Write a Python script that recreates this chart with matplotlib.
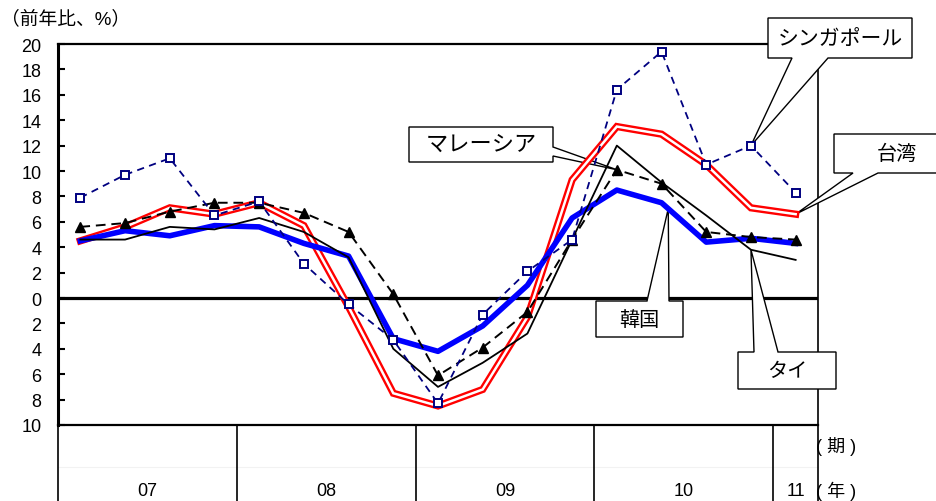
import matplotlib
matplotlib.use("Agg")
import matplotlib.pyplot as plt
import numpy as np
from matplotlib.patches import Polygon

plt.rcParams['font.family'] = ['Liberation Sans', 'Noto Sans CJK JP']

# ---------------- data ----------------
years = ['07', '08', '09', '10', '11']
quarters_per_year = [4, 4, 4, 4, 1]
ytick_values = [20, 18, 16, 14, 12, 10, 8, 6, 4, 2, 0, -2, -4, -6, -8, -10]
ytick_labels = ['20', '18', '16', '14', '12', '10', '8', '6', '4', '2', '0',
                '2', '4', '6', '8', '10']

taiwan = [4.5, 5.6, 7.1, 6.6, 7.5, 5.7, -0.7, -7.5, -8.5, -7.2, -1.5, 9.3, 13.5, 12.9, 10.5, 7.1, 6.6]
korea = [4.5, 5.3, 4.9, 5.7, 5.6, 4.3, 3.3, -3.2, -4.2, -2.2, 1.0, 6.3, 8.5, 7.5, 4.4, 4.7, 4.3]
thailand = [4.6, 4.6, 5.6, 5.4, 6.3, 5.2, 3.2, -4.0, -7.0, -5.1, -2.8, 4.6, 12.0, 9.1, 6.5, 3.8, 3.0]
malaysia = [5.6, 5.9, 6.8, 7.5, 7.5, 6.7, 5.2, 0.3, -6.1, -3.9, -1.1, 4.6, 10.1, 9.0, 5.2, 4.8, 4.6]
singapore = [7.9, 9.7, 11.0, 6.5, 7.6, 2.7, -0.5, -3.3, -8.3, -1.3, 2.1, 4.6, 16.4, 19.4, 10.5, 12.0, 8.3]

# ---------------- figure ----------------
W, H = 937, 502
fig = plt.figure(figsize=(W / 100, H / 100), dpi=100)
L, R, T, B = 58, 818, 45, 426
ax = fig.add_axes([L / W, 1 - B / H, (R - L) / W, (B - T) / H])

n = len(taiwan)
x = np.arange(n)
ax.set_xlim(-0.5, n - 0.5)
ax.set_ylim(-10, 20)

def px(xp, yp):
    """pixel -> data coordinates (layout helper)"""
    xd = -0.5 + (xp - L) / ((R - L) / n)
    yd = 20 - (yp - T) * 30 / (B - T)
    return xd, yd

# frame
for s in ['top', 'right', 'bottom', 'left']:
    ax.spines[s].set_zorder(1)
ax.spines['left'].set_linewidth(2.2)
ax.spines['top'].set_linewidth(1.6)
ax.spines['bottom'].set_linewidth(1.6)
ax.spines['right'].set_visible(False)

ax.set_yticks(ytick_values)
ax.set_yticklabels(ytick_labels)
ax.tick_params(axis='y', direction='in', length=5, width=1.5, pad=12, labelsize=13)
ax.set_xticks([])

ax.axhline(0, color='black', lw=2.3, zorder=1.2)

# bottom year table and right border
xt = ax.get_xaxis_transform()
tb = -(H - B) / (B - T)
ax.plot([n - 0.5, n - 0.5], [tb, 1], color='black', lw=1.2, transform=xt, clip_on=False, zorder=1)
ax.plot([-0.5, -0.5], [tb, 0], color='black', lw=1.2, transform=xt, clip_on=False, zorder=1)
ax.plot([-0.5, n - 0.5], [-(468 - B) / (B - T)] * 2, color='#f2f2f2', lw=0.8,
        transform=xt, clip_on=False, zorder=0.5)
start = -0.5
for yr, q in zip(years, quarters_per_year):
    end = start + q
    if end < n - 0.5:
        ax.plot([end, end], [tb, 0], color='black', lw=1.2, transform=xt, clip_on=False)
    ax.text((start + end) / 2, -(492 - B) / (B - T), yr, transform=xt,
            ha='center', va='center', fontsize=13)
    start = end
xr, _ = px(816, 0)
ax.text(xr, -(447 - B) / (B - T), '( 期 )', transform=xt, ha='left', va='center', fontsize=13)
ax.text(xr, -(491 - B) / (B - T), '( 年 )', transform=xt, ha='left', va='center', fontsize=13)

fig.text(1 / W, 1 - 19 / H, '（前年比、%）', ha='left', va='center', fontsize=13.5)

# ---------------- series ----------------
ax.plot(x, taiwan, color='red', lw=5.2, solid_joinstyle='miter', zorder=3)
ax.plot(x, taiwan, color='white', lw=1.8, solid_joinstyle='miter', zorder=3.1)
ax.plot(x, korea, color='#0000ff', lw=4.0, zorder=3.2)
ax.plot(x, thailand, color='black', lw=1.3, zorder=3.3)
ax.plot(x, malaysia, color='black', lw=1.4, ls=(0, (5, 3)), marker='^',
        ms=6.5, mfc='black', mec='black', zorder=3.4)
ax.plot(x, singapore, color='#000080', lw=1.3, ls=(0, (4, 3)), marker='s',
        ms=5.5, mfc='white', mec='#000080', mew=1.4, zorder=3.5)

# ---------------- callouts ----------------
def callout(text, verts_px, tip, fs):
    pts = []
    for v in verts_px:
        if v == 'tip':
            pts.append(tip)
        else:
            pts.append(px(*v))
    poly = Polygon(pts, closed=True, facecolor='white', edgecolor='black',
                   lw=1.0, zorder=2, clip_on=False)
    ax.add_patch(poly)
    box = [p for p in verts_px if p != 'tip']
    xs = [p[0] for p in box]
    ys = [p[1] for p in box]
    cx, cy = px((min(xs) + max(xs)) / 2, (min(ys) + max(ys)) / 2)
    ax.text(cx, cy, text, ha='center', va='center', fontsize=fs, zorder=2.1)

# マレーシア (tail from right edge)
callout('マレーシア',
        [(409, 128), (553, 128), (553, 148), 'tip', (553, 157), (553, 163), (409, 163)],
        (12, malaysia[12]), 16)
# シンガポール (tail from bottom)
callout('シンガポール',
        [(768, 19), (912, 19), (912, 59), (828, 59), 'tip', (792, 59), (768, 59)],
        (15, singapore[15]), 15)
# 台湾 (tail from bottom, box extends beyond figure)
callout('台湾',
        [(834, 135), (960, 135), (960, 174), (878, 174), 'tip', (853, 174), (834, 174)],
        (16, taiwan[16]), 14.5)
# 韓国 (tail from top)
kx = 13.15
ky = np.interp(kx, x, korea)
callout('韓国',
        [(596, 302), (647, 302), 'tip', (669, 302), (683, 302), (683, 338), (596, 338)],
        (kx, ky), 14.5)
# タイ (tail from top)
callout('タイ',
        [(738, 353), (754, 353), 'tip', (778, 353), (836, 353), (836, 390), (738, 390)],
        (15, thailand[15]), 14.5)

fig.savefig('out.png', dpi=100)
